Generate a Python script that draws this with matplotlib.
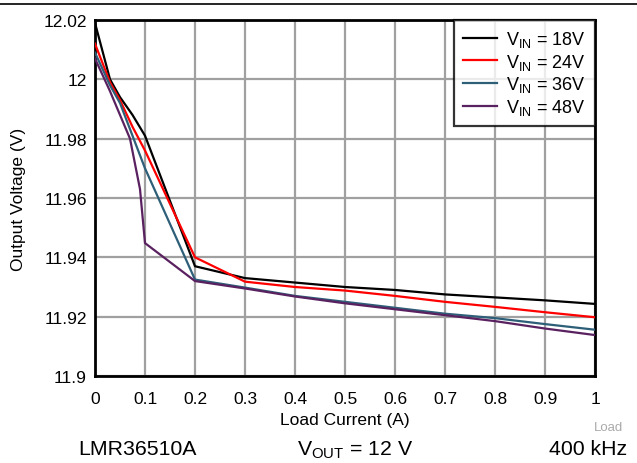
import matplotlib
matplotlib.use("Agg")
import matplotlib.pyplot as plt

plt.rcParams['font.family'] = ['Liberation Sans', 'DejaVu Sans']

# load current (A) and output voltage (V) per input voltage
x18 = [0, 0.03, 0.05, 0.075, 0.1, 0.2, 0.3, 0.4, 0.5, 0.6, 0.7, 0.8, 0.9, 1.0]
v18 = [12.019, 12.0, 11.994, 11.988, 11.981, 11.937, 11.933, 11.9315, 11.930, 11.929, 11.9275, 11.9265, 11.9255, 11.9243]
x24 = [0, 0.03, 0.05, 0.075, 0.1, 0.2, 0.3, 0.4, 0.5, 0.6, 0.7, 0.8, 0.9, 1.0]
v24 = [12.012, 11.999, 11.993, 11.984, 11.976, 11.940, 11.9318, 11.930, 11.9288, 11.927, 11.925, 11.9233, 11.9215, 11.9198]
x36 = [0, 0.03, 0.05, 0.075, 0.1, 0.2, 0.3, 0.4, 0.5, 0.6, 0.7, 0.8, 0.9, 1.0]
v36 = [12.009, 11.998, 11.992, 11.981, 11.970, 11.9325, 11.9298, 11.927, 11.925, 11.923, 11.921, 11.9195, 11.9175, 11.9156]
x48 = [0, 0.03, 0.05, 0.07, 0.09, 0.1, 0.2, 0.3, 0.4, 0.5, 0.6, 0.7, 0.8, 0.9, 1.0]
v48 = [12.007, 11.996, 11.988, 11.980, 11.963, 11.9448, 11.932, 11.9295, 11.9268, 11.9245, 11.9225, 11.9205, 11.9185, 11.916, 11.9138]

labels = [r'V$_{\mathregular{IN}}$ = 18V', r'V$_{\mathregular{IN}}$ = 24V',
          r'V$_{\mathregular{IN}}$ = 36V', r'V$_{\mathregular{IN}}$ = 48V']
colors = ['#000000', '#ff0000', '#2e5f78', '#5a2160']

fig = plt.figure(figsize=(6.37, 4.64), dpi=100)
ax = fig.add_axes([95/637, 1-377/464, 500/637, 356/464])

ax.plot(x18, v18, color=colors[0], lw=1.6, label=labels[0], zorder=3)
ax.plot(x24, v24, color=colors[1], lw=1.6, label=labels[1], zorder=3)
ax.plot(x36, v36, color=colors[2], lw=1.6, label=labels[2], zorder=3)
ax.plot(x48, v48, color=colors[3], lw=1.6, label=labels[3], zorder=3)

ax.set_xlim(0, 1)
ax.set_ylim(11.9, 12.02)
ax.set_xticks([0, 0.1, 0.2, 0.3, 0.4, 0.5, 0.6, 0.7, 0.8, 0.9, 1])
ax.set_xticklabels(['0', '0.1', '0.2', '0.3', '0.4', '0.5', '0.6', '0.7', '0.8', '0.9', '1'])
ax.set_yticks([11.9, 11.92, 11.94, 11.96, 11.98, 12.0, 12.02])
ax.set_yticklabels(['11.9', '11.92', '11.94', '11.96', '11.98', '12', '12.02'])
ax.tick_params(axis='x', length=0, pad=11, labelsize=12.5)
ax.tick_params(axis='y', length=0, pad=6, labelsize=12.5)
ax.grid(True, color='#a0a0a0', lw=1.6, zorder=1)
for s in ax.spines.values():
    s.set_linewidth(2)
    s.set_color('black')

ax.set_xlabel('Load Current (A)', fontsize=12.5, labelpad=4)
ax.set_ylabel('Output Voltage (V)', fontsize=12.5, labelpad=12)

leg = ax.legend(loc='upper right', fontsize=13, frameon=True, fancybox=False,
                borderaxespad=0, handlelength=1.9, handletextpad=0.5,
                labelspacing=0.15, borderpad=0.5)
leg.get_frame().set_edgecolor('black')
leg.get_frame().set_linewidth(1.6)

# top rule
fig.add_artist(plt.Line2D([0, 1], [1-5/464, 1-5/464], color='black', lw=1.2))

fig.text(623/637, 1-428/464, 'Load', color='#aaaaaa', fontsize=9.5, ha='right', va='center')
fig.text(137/637, 1-450/464, 'LMR36510A', fontsize=15.3, ha='center', va='center')
fig.text(355/637, 1-450/464, r'V$_{\mathregular{OUT}}$ = 12 V', fontsize=15.3, ha='center', va='center')
fig.text(627/637, 1-450/464, '400 kHz', fontsize=15.3, ha='right', va='center')

fig.savefig('out.png', dpi=100)
